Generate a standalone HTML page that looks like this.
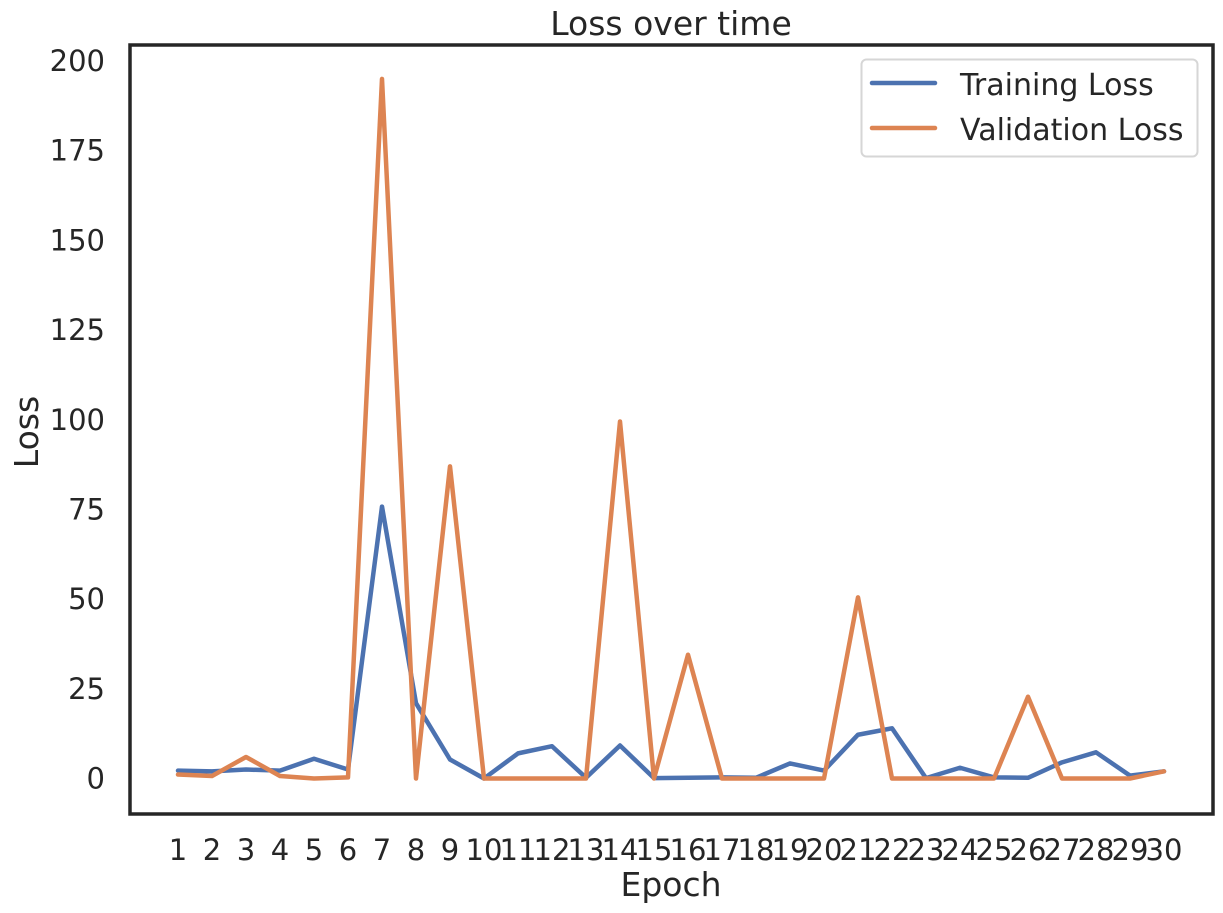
<!DOCTYPE html>
<html><head><meta charset="utf-8"><style>
html,body{margin:0;padding:0;background:#fff;}
svg{display:block;font-family:"DejaVu Sans","Liberation Sans",sans-serif;}
</style></head><body>
<svg id="chart" width="1223" height="913">
<rect x="0" y="0" width="1223" height="913" fill="#fff"/>
<text x="671" y="35" font-size="33" text-anchor="middle" fill="#262626">Loss over time</text>
<g id="yticks"></g><g id="xticks"></g>
<g id="lines"></g>
<rect x="130" y="45" width="1083" height="769" fill="none" stroke="#262626" stroke-width="3.5"/>
<text x="671" y="896" font-size="33" text-anchor="middle" fill="#262626">Epoch</text>
<text transform="translate(38,432) rotate(-90)" font-size="33" text-anchor="middle" fill="#262626">Loss</text>
<g>
<rect x="861.5" y="59.5" width="336" height="97" rx="5" fill="#fff" stroke="#d6d6d6" stroke-width="2"/>
<g>
<line x1="872" y1="83" x2="935" y2="83" stroke="#4c72b0" stroke-width="4.5" stroke-linecap="round"/>
<text x="960" y="95" font-size="30" fill="#262626">Training Loss</text></g>
<g>
<line x1="872" y1="128" x2="935" y2="128" stroke="#dd8452" stroke-width="4.5" stroke-linecap="round"/>
<text x="960" y="140" font-size="30" fill="#262626">Validation Loss</text></g>
</g>
</svg>
<script>
const epochs = [1,2,3,4,5,6,7,8,9,10,11,12,13,14,15,16,17,18,19,20,21,22,23,24,25,26,27,28,29,30];
const trainingLoss = [2.2,2,2.5,2.2,5.5,2.5,75.8,21,5.3,0,7,9,0.2,9.2,0.1,0.2,0.3,0.2,4.2,2.2,12.2,14,0.1,3,0.3,0.2,4.5,7.3,0.8,2];
const validationLoss = [1.1,0.7,6,0.7,0,0.3,195,0,87,0,0,0,0,99.5,0,34.5,0,0,0,0,50.5,0,0,0,0,22.8,0,0,0,2];
const yTickValues = [0,25,50,75,100,125,150,175,200];
const NS='http://www.w3.org/2000/svg';
function xs(e){return 178+(e-1)*(1164-178)/29;}
function ys(v){return 778.5-v*(778.5-61)/200;}
const yt=document.getElementById('yticks');
yTickValues.forEach(v=>{
 const t=document.createElementNS(NS,'text');
 t.setAttribute('x',105);t.setAttribute('y',ys(v)+10);t.setAttribute('font-size','29');
 t.setAttribute('text-anchor','end');t.setAttribute('fill','#262626');t.textContent=v;
 
 
 yt.appendChild(t);
});
const xt=document.getElementById('xticks');
epochs.forEach(e=>{
 const t=document.createElementNS(NS,'text');
 t.setAttribute('x',xs(e));t.setAttribute('y',860);t.setAttribute('font-size','29');
 t.setAttribute('text-anchor','middle');t.setAttribute('fill','#262626');t.textContent=e;
 
 
 xt.appendChild(t);
});
const lg=document.getElementById('lines');
[[trainingLoss,'#4c72b0','training-loss-line'],[validationLoss,'#dd8452','validation-loss-line']].forEach(([d,c,n])=>{
 const p=document.createElementNS(NS,'polyline');
 p.setAttribute('points',d.map((v,i)=>xs(epochs[i])+','+ys(v)).join(' '));
 p.setAttribute('fill','none');p.setAttribute('stroke',c);p.setAttribute('stroke-width','4.5');
 p.setAttribute('stroke-linejoin','round');p.setAttribute('stroke-linecap','round');
 
 
 lg.appendChild(p);
});
</script>
</body></html>
